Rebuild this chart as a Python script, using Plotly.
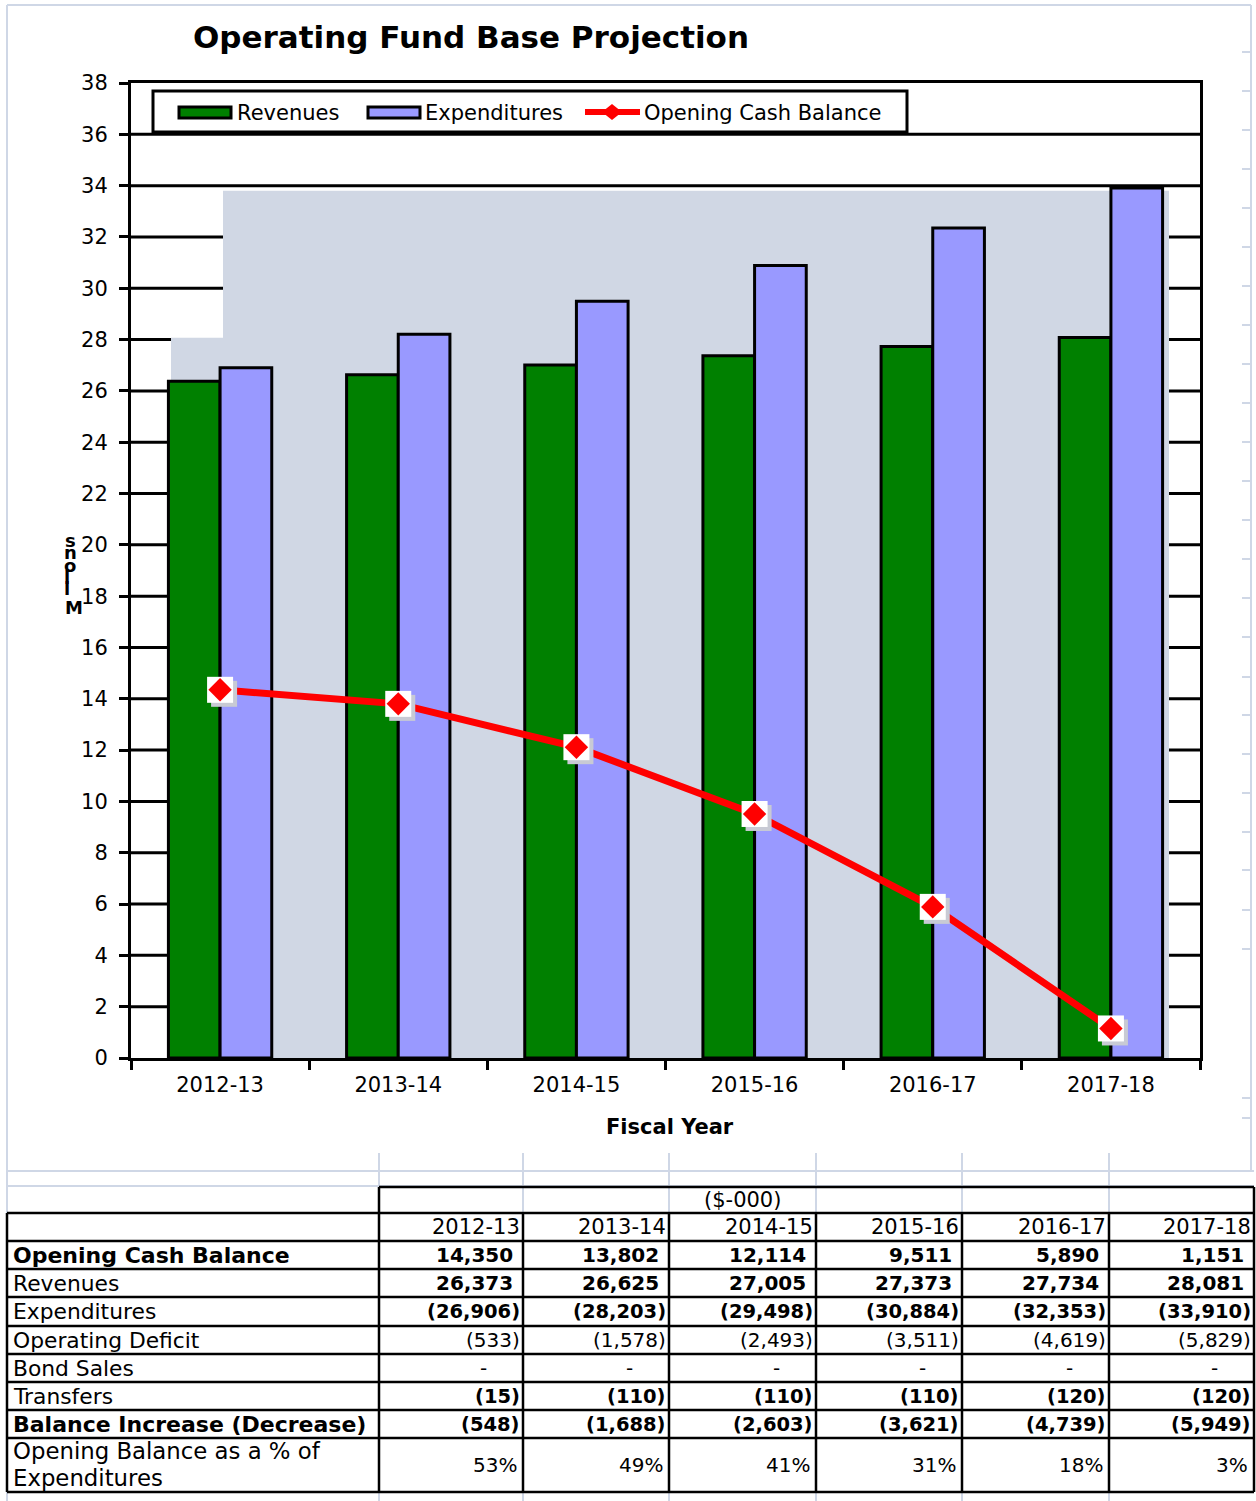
import plotly.graph_objects as go

# ---------------- data ----------------
years = ["2012-13", "2013-14", "2014-15", "2015-16", "2016-17", "2017-18"]
opening_cash = [14350, 13802, 12114, 9511, 5890, 1151]
revenues = [26373, 26625, 27005, 27373, 27734, 28081]
expenditures = [-26906, -28203, -29498, -30884, -32353, -33910]
operating_deficit = [-533, -1578, -2493, -3511, -4619, -5829]
bond_sales = [0, 0, 0, 0, 0, 0]
transfers = [-15, -110, -110, -110, -120, -120]
balance_change = [-548, -1688, -2603, -3621, -4739, -5949]
pct_of_exp = [53, 49, 41, 31, 18, 3]

y_ticks = list(range(0, 39, 2))

# ---------------- helpers ----------------
W, H = 1256, 1501
FONT = "DejaVu Sans"


def px(x):
    return x / W


def py(y):
    return 1 - y / H


GRAY_BG = "#D0D7E4"
LIGHT = "#CFD7E6"
GREEN = "#008000"
BLUE = "#9999FF"
RED = "#FF0000"

rev_m = [v / 1000 for v in revenues]
exp_m = [-v / 1000 for v in expenditures]
open_m = [v / 1000 for v in opening_cash]

fig = go.Figure()

fig.add_trace(go.Bar(x=years, y=rev_m, name="Revenues", marker=dict(color=GREEN, line=dict(color="black", width=3)),
                     showlegend=False, xaxis="x", yaxis="y"))
fig.add_trace(go.Bar(x=years, y=exp_m, name="Expenditures", marker=dict(color=BLUE, line=dict(color="black", width=3)),
                     showlegend=False, xaxis="x", yaxis="y"))
fig.add_trace(go.Scatter(x=years, y=open_m, mode="lines", line=dict(color=RED, width=7),
                         showlegend=False, xaxis="x", yaxis="y"))
# marker shadow (shifted overlay axes)
fig.add_trace(go.Scatter(x=years, y=open_m, mode="markers",
                         marker=dict(symbol="square", size=26, color="#C8CAD4", line=dict(width=0)),
                         showlegend=False, xaxis="x2", yaxis="y2"))
# white square + red diamond
fig.add_trace(go.Scatter(x=years, y=open_m, mode="markers",
                         marker=dict(symbol="square", size=26, color="white", line=dict(width=0)),
                         showlegend=False, xaxis="x3", yaxis="y3"))
fig.add_trace(go.Scatter(x=years, y=open_m, mode="markers",
                         marker=dict(symbol="diamond", size=18, color=RED, line=dict(width=0)),
                         showlegend=False, xaxis="x3", yaxis="y3"))

xdom = [px(131), px(1200)]
ydom = [py(1058), py(83)]
cat_px = (1200 - 131) / 6.0
val_px = (1058 - 83) / 38.0
sx = 4 / cat_px
sy = 4 / val_px

shapes = []
annotations = []

# outer spreadsheet light lines
shapes.append(dict(type="line", xref="paper", yref="paper", x0=px(7), x1=px(7), y0=py(5), y1=py(1501),
                   line=dict(color=LIGHT, width=2)))
shapes.append(dict(type="line", xref="paper", yref="paper", x0=px(7), x1=px(1251), y0=py(5), y1=py(5),
                   line=dict(color=LIGHT, width=2)))
shapes.append(dict(type="line", xref="paper", yref="paper", x0=px(1251), x1=px(1251), y0=py(5), y1=py(1171),
                   line=dict(color=LIGHT, width=2)))
for yy in [52, 91, 130, 169, 208, 247, 286, 325, 364, 403, 442, 481, 520, 559, 598, 637, 677, 715, 754,
           793, 832, 870, 910, 949, 1098, 1118]:
    shapes.append(dict(type="line", xref="paper", yref="paper", x0=px(1242), x1=px(1251), y0=py(yy), y1=py(yy),
                       line=dict(color=LIGHT, width=2)))

# gridlines (drawn below the gray panel)
for v in y_ticks[1:-1]:
    shapes.append(dict(type="line", xref="paper", yref="y", x0=px(131), x1=px(1200), y0=v, y1=v,
                       line=dict(color="black", width=3), layer="below"))
# gray panel with notch
shapes.append(dict(type="rect", xref="paper", yref="y", x0=px(171), x1=px(1169), y0=0, y1=28.07,
                   fillcolor=GRAY_BG, line=dict(width=0), layer="below"))
shapes.append(dict(type="rect", xref="paper", yref="y", x0=px(223), x1=px(1169), y0=28.0, y1=33.8,
                   fillcolor=GRAY_BG, line=dict(width=0), layer="below"))

# manual legend
shapes.append(dict(type="rect", xref="paper", yref="paper", x0=px(153), x1=px(907), y0=py(132), y1=py(91),
                   fillcolor="white", line=dict(color="black", width=3)))
shapes.append(dict(type="rect", xref="paper", yref="paper", x0=px(179), x1=px(231), y0=py(118), y1=py(107),
                   fillcolor=GREEN, line=dict(color="black", width=3)))
shapes.append(dict(type="rect", xref="paper", yref="paper", x0=px(368), x1=px(420), y0=py(118), y1=py(107),
                   fillcolor=BLUE, line=dict(color="black", width=3)))
shapes.append(dict(type="line", xref="paper", yref="paper", x0=px(585), x1=px(640), y0=py(112), y1=py(112),
                   line=dict(color=RED, width=6)))
cx, cy, hw, hh = 612, 112, 10, 8
shapes.append(dict(type="path", xref="paper", yref="paper",
                   path=f"M {px(cx-hw)},{py(cy)} L {px(cx)},{py(cy-hh)} L {px(cx+hw)},{py(cy)} L {px(cx)},{py(cy+hh)} Z",
                   fillcolor=RED, line=dict(width=0)))
for xx, t in [(235, "Revenues"), (423, "Expenditures"), (642, "Opening Cash Balance")]:
    annotations.append(dict(xref="paper", yref="paper", x=px(xx), y=py(113), text=t, showarrow=False,
                            xanchor="left", yanchor="middle", font=dict(family=FONT, size=21, color="black")))

# title and axis titles
annotations.append(dict(xref="paper", yref="paper", x=px(471), y=py(37), text="<b>Operating Fund Base Projection</b>",
                        showarrow=False, xanchor="center", yanchor="middle",
                        font=dict(family=FONT, size=31, color="black")))
annotations.append(dict(xref="paper", yref="paper", x=px(670), y=py(1127), text="<b>Fiscal Year</b>",
                        showarrow=False, xanchor="center", yanchor="middle",
                        font=dict(family=FONT, size=21, color="black")))
for ch, xx, yy in [("s", 70, 540), ("n", 70, 552), ("o", 70, 565), ("l", 67, 577), ("l", 67, 588), ("M", 74, 607)]:
    annotations.append(dict(xref="paper", yref="paper", x=px(xx), y=py(yy), text=f"<b>{ch}</b>",
                            showarrow=False, xanchor="center", yanchor="middle",
                            font=dict(family=FONT, size=18, color="black")))

# ---------------- table ----------------
col_lines = [379, 523, 669, 816, 962, 1109, 1254]
row_lines = [1213, 1241, 1269, 1297, 1326, 1354, 1382, 1410, 1438, 1492]

# light spreadsheet lines around table
for yy in [1171, 1186]:
    shapes.append(dict(type="line", xref="paper", yref="paper", x0=px(7), x1=px(1254), y0=py(yy), y1=py(yy),
                       line=dict(color=LIGHT, width=2)))
for xx in col_lines[:-1]:
    shapes.append(dict(type="line", xref="paper", yref="paper", x0=px(xx), x1=px(xx), y0=py(1153), y1=py(1213),
                       line=dict(color=LIGHT, width=2)))
    shapes.append(dict(type="line", xref="paper", yref="paper", x0=px(xx), x1=px(xx), y0=py(1492), y1=py(1501),
                       line=dict(color=LIGHT, width=2)))

# black borders
shapes.append(dict(type="line", xref="paper", yref="paper", x0=px(379), x1=px(1254), y0=py(1187), y1=py(1187),
                   line=dict(color="black", width=2.5)))
for yy in row_lines:
    shapes.append(dict(type="line", xref="paper", yref="paper", x0=px(7), x1=px(1254), y0=py(yy), y1=py(yy),
                       line=dict(color="black", width=2.5)))
shapes.append(dict(type="line", xref="paper", yref="paper", x0=px(7), x1=px(7), y0=py(1213), y1=py(1492),
                   line=dict(color="black", width=2.5)))
for i, xx in enumerate(col_lines):
    top = 1187 if i in (0, len(col_lines) - 1) else 1213
    shapes.append(dict(type="line", xref="paper", yref="paper", x0=px(xx), x1=px(xx), y0=py(top), y1=py(1492),
                       line=dict(color="black", width=2.5)))


def fmt(v):
    if v == 0:
        return "-"
    if v < 0:
        return "({:,})".format(-v)
    return "{:,}".format(v)


def cell_text(x, y, s, anchor="right", bold=False, size=20):
    annotations.append(dict(xref="paper", yref="paper", x=px(x), y=py(y), text=f"<b>{s}</b>" if bold else s,
                            showarrow=False, xanchor=anchor, yanchor="middle",
                            font=dict(family=FONT, size=size, color="black")))


# ($-000) header
cell_text((669 + 816) / 2, 1200, "($-000)", anchor="center", size=21)
# years header
for i, yr in enumerate(years):
    cell_text(col_lines[i + 1] - 1, 1227, yr, size=21)

rows = [
    ("Opening Cash Balance", True, opening_cash, True, 1255),
    ("Revenues", False, revenues, True, 1283),
    ("Expenditures", False, expenditures, True, 1311),
    ("Operating Deficit", False, operating_deficit, False, 1340),
    ("Bond Sales", False, bond_sales, False, 1368),
    ("Transfers", False, transfers, True, 1396),
    ("Balance Increase (Decrease)", True, balance_change, True, 1424),
]
for label, lbold, vals, vbold, yc in rows:
    cell_text(11, yc, label, anchor="left", bold=lbold, size=22 if lbold else 21.8)
    for i, v in enumerate(vals):
        right = col_lines[i + 1]
        s = fmt(v)
        if v == 0:
            cell_text(right - 40, yc, s, anchor="center", bold=vbold, size=20)
        elif v < 0:
            cell_text(right - 1, yc, s, bold=vbold, size=19.5 if vbold else 20)
        else:
            cell_text(right - 8, yc, s, bold=vbold, size=20)

cell_text(11, 1451, "Opening Balance as a % of", anchor="left", size=22.8)
cell_text(11, 1478, "Expenditures", anchor="left", size=22.8)
for i, p in enumerate(pct_of_exp):
    cell_text(col_lines[i + 1] - 4, 1465, f"{p}%", size=20)

axis_common = dict(showgrid=False, zeroline=False, automargin=False)
fig.update_layout(
    template="none",
    width=W, height=H, autosize=False,
    margin=dict(l=0, r=0, t=0, b=0, pad=0, autoexpand=False),
    paper_bgcolor="white", plot_bgcolor="white",
    barmode="group", bargap=0.42, bargroupgap=0,
    showlegend=False,
    xaxis=dict(domain=xdom, type="category", categoryorder="array", categoryarray=years, range=[-0.5, 5.5],
               showline=True, linecolor="black", linewidth=3, mirror=True,
               ticks="outside", tickson="boundaries", ticklen=9, tickwidth=3, tickcolor="black",
               tickfont=dict(family=FONT, size=21, color="black"), ticklabelstandoff=6, **axis_common),
    yaxis=dict(domain=ydom, range=[0, 38], tickvals=y_ticks, ticktext=[str(v) for v in y_ticks],
               showline=True, linecolor="black", linewidth=3, mirror=True,
               ticks="outside", ticklen=9, tickwidth=3, tickcolor="black",
               tickfont=dict(family=FONT, size=21, color="black"), ticklabelstandoff=7, **axis_common),
    xaxis2=dict(overlaying="x", anchor="y2", type="category", categoryorder="array", categoryarray=years,
                range=[-0.5 - sx, 5.5 - sx], visible=False, **axis_common),
    yaxis2=dict(overlaying="y", anchor="x2", range=[0 + sy, 38 + sy], visible=False, **axis_common),
    xaxis3=dict(overlaying="x", anchor="y3", type="category", categoryorder="array", categoryarray=years,
                range=[-0.5, 5.5], visible=False, **axis_common),
    yaxis3=dict(overlaying="y", anchor="x3", range=[0, 38], visible=False, **axis_common),
    shapes=shapes,
    annotations=annotations,
)

fig.write_html("out.html")
